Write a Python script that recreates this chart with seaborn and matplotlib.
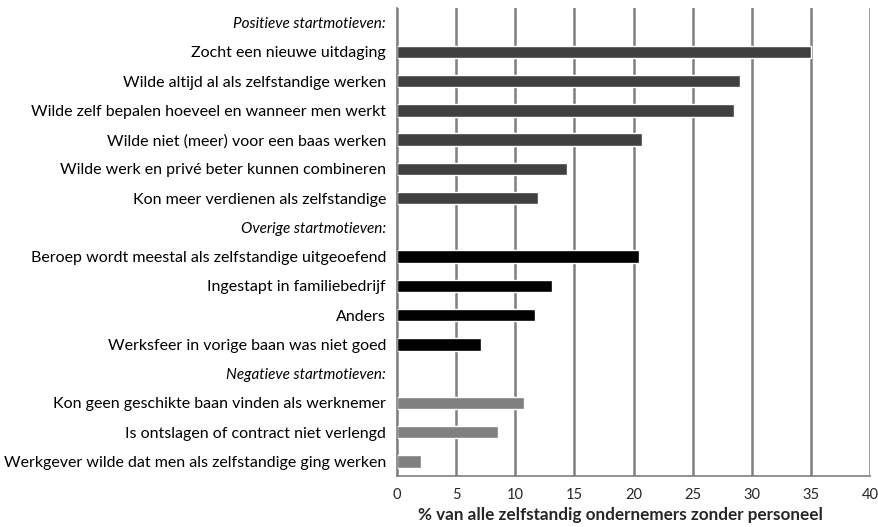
import pandas as pd
import numpy as np
import matplotlib.pyplot as plt
import seaborn as sns

# data
categories = [
    "Positieve startmotieven:",
    "Zocht een nieuwe uitdaging",
    "Wilde altijd al als zelfstandige werken",
    "Wilde zelf bepalen hoeveel en wanneer men werkt",
    "Wilde niet (meer) voor een baas werken",
    "Wilde werk en privé beter kunnen combineren",
    "Kon meer verdienen als zelfstandige",
    "Overige startmotieven:",
    "Beroep wordt meestal als zelfstandige uitgeoefend",
    "Ingestapt in familiebedrijf",
    "Anders",
    "Werksfeer in vorige baan was niet goed",
    "Negatieve startmotieven:",
    "Kon geen geschikte baan vinden als werknemer",
    "Is ontslagen of contract niet verlengd",
    "Werkgever wilde dat men als zelfstandige ging werken",
]
values = [np.nan, 35.0, 29.0, 28.5, 20.7, 14.4, 11.9,
          np.nan, 20.5, 13.1, 11.7, 7.1,
          np.nan, 10.7, 8.5, 2.0]
groups = ["pos"] * 7 + ["ov"] * 5 + ["neg"] * 4
headers = ["Positieve startmotieven:", "Overige startmotieven:", "Negatieve startmotieven:"]

PALETTE = {"pos": "#404040", "ov": "#000000", "neg": "#808080"}

df = pd.DataFrame({"motief": categories, "pct": values, "groep": groups})

sns.set_style("white")
plt.rcParams["font.family"] = ["Lato", "DejaVu Sans"]

fig = plt.figure(figsize=(8.79, 5.27), dpi=100)
ax = fig.add_axes([0.4517, 0.0968, 0.5381, 0.888])

sns.barplot(data=df, y="motief", x="pct", hue="groep", palette=PALETTE,
            dodge=False, legend=False, width=0.42, ax=ax, order=categories)

ax.set_xlim(0, 40)
ax.set_ylim(len(categories) - 0.5, -0.5)
ax.set_xticks(range(0, 41, 5))
ax.xaxis.grid(True, color="#7f7f7f", linewidth=1.8)
ax.set_axisbelow(True)

for s in ["top", "right"]:
    ax.spines[s].set_visible(False)
for s in ["left", "bottom"]:
    ax.spines[s].set_color("#7f7f7f")
    ax.spines[s].set_linewidth(1.2)

# Excel-style tick marks between categories
ax.set_yticks(np.arange(-0.5, len(categories), 1.0), minor=True)
ax.tick_params(axis="y", which="major", length=0, labelsize=11.5, pad=8, labelcolor="black")
ax.tick_params(axis="y", which="minor", length=5, width=1.2, color="#7f7f7f", direction="out")
ax.tick_params(axis="x", length=4, width=1.2, color="#7f7f7f", labelsize=10.5, pad=5)

for lbl in ax.get_yticklabels():
    if lbl.get_text() in headers:
        lbl.set_fontstyle("italic")
        lbl.set_fontsize(11)

ax.set_ylabel("")
ax.set_xlabel("% van alle zelfstandig ondernemers zonder personeel",
              fontsize=12.3, fontweight="bold", labelpad=3)
ax.xaxis.label.set_x(0.472)

plt.savefig("out.png", dpi=100)
plt.close()
